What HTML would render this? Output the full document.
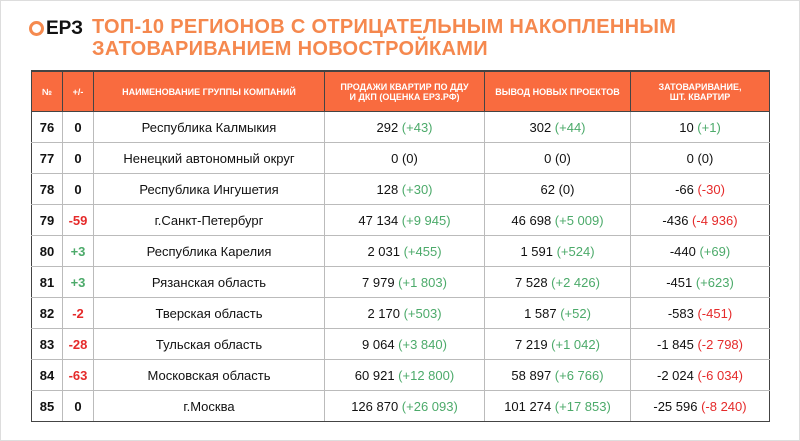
<!DOCTYPE html><html><head><meta charset="utf-8"><style>
body{margin:0;width:800px;height:441px;background:#fff;font-family:"Liberation Sans",sans-serif;overflow:hidden;position:relative}
.frame{position:absolute;left:0;top:0;width:798px;height:439px;border:1px solid #ddd}
.logo{position:absolute;left:29px;top:18px;font-weight:bold;font-size:19px;color:#111}
.logo .q{display:inline-block;border:3px solid #f58a4f;border-radius:50%;vertical-align:-2px;margin-right:2px;box-sizing:border-box;width:15px;height:15px}
.title{position:absolute;left:92px;top:16px;color:#f5884e;font-weight:bold;font-size:20px;line-height:22px;letter-spacing:0.3px}
table{position:absolute;left:31px;top:70px;border-collapse:collapse;width:739px;font-size:13px;color:#111}
th{background:#f96b3f;color:#fff;font-size:9px;font-weight:bold;height:39px;border:1px solid #444;border-top:2px solid #444;padding:0 3px;line-height:10px}
td{height:30px;border:1px solid #bbb;text-align:center;padding:0}
td.b{font-weight:bold}
tr td:first-child{border-left:1px solid #444}tr td:last-child{border-right:1px solid #444}
tr:last-child td{border-bottom:1px solid #444}
.g{color:#4caa6a}.r{color:#e52a2a}
</style></head><body><div class="frame"></div>
<div class="logo"><span class="q"></span>ЕРЗ</div>
<div class="title">ТОП-10 РЕГИОНОВ С ОТРИЦАТЕЛЬНЫМ НАКОПЛЕННЫМ<br>ЗАТОВАРИВАНИЕМ НОВОСТРОЙКАМИ</div>
<table>
<tr><th style="width:24px">№</th><th style="width:24px">+/-</th><th style="width:224px">НАИМЕНОВАНИЕ ГРУППЫ КОМПАНИЙ</th><th style="width:153px">ПРОДАЖИ КВАРТИР ПО ДДУ<br>И ДКП (ОЦЕНКА ЕРЗ.РФ)</th><th style="width:139px">ВЫВОД НОВЫХ ПРОЕКТОВ</th><th>ЗАТОВАРИВАНИЕ,<br>ШТ. КВАРТИР</th></tr>
<tr><td class="b">76</td><td class="b">0</td><td>Республика Калмыкия</td><td>292 <span class="g">(+43)</span></td><td>302 <span class="g">(+44)</span></td><td>10 <span class="g">(+1)</span></td></tr>
<tr><td class="b">77</td><td class="b">0</td><td>Ненецкий автономный округ</td><td>0 (0)</td><td>0 (0)</td><td>0 (0)</td></tr>
<tr><td class="b">78</td><td class="b">0</td><td>Республика Ингушетия</td><td>128 <span class="g">(+30)</span></td><td>62 (0)</td><td>-66 <span class="r">(-30)</span></td></tr>
<tr><td class="b">79</td><td class="b r">-59</td><td>г.Санкт-Петербург</td><td>47 134 <span class="g">(+9 945)</span></td><td>46 698 <span class="g">(+5 009)</span></td><td>-436 <span class="r">(-4 936)</span></td></tr>
<tr><td class="b">80</td><td class="b g">+3</td><td>Республика Карелия</td><td>2 031 <span class="g">(+455)</span></td><td>1 591 <span class="g">(+524)</span></td><td>-440 <span class="g">(+69)</span></td></tr>
<tr><td class="b">81</td><td class="b g">+3</td><td>Рязанская область</td><td>7 979 <span class="g">(+1 803)</span></td><td>7 528 <span class="g">(+2 426)</span></td><td>-451 <span class="g">(+623)</span></td></tr>
<tr><td class="b">82</td><td class="b r">-2</td><td>Тверская область</td><td>2 170 <span class="g">(+503)</span></td><td>1 587 <span class="g">(+52)</span></td><td>-583 <span class="r">(-451)</span></td></tr>
<tr><td class="b">83</td><td class="b r">-28</td><td>Тульская область</td><td>9 064 <span class="g">(+3 840)</span></td><td>7 219 <span class="g">(+1 042)</span></td><td>-1 845 <span class="r">(-2 798)</span></td></tr>
<tr><td class="b">84</td><td class="b r">-63</td><td>Московская область</td><td>60 921 <span class="g">(+12 800)</span></td><td>58 897 <span class="g">(+6 766)</span></td><td>-2 024 <span class="r">(-6 034)</span></td></tr>
<tr><td class="b">85</td><td class="b">0</td><td>г.Москва</td><td>126 870 <span class="g">(+26 093)</span></td><td>101 274 <span class="g">(+17 853)</span></td><td>-25 596 <span class="r">(-8 240)</span></td></tr>
</table></body></html>
